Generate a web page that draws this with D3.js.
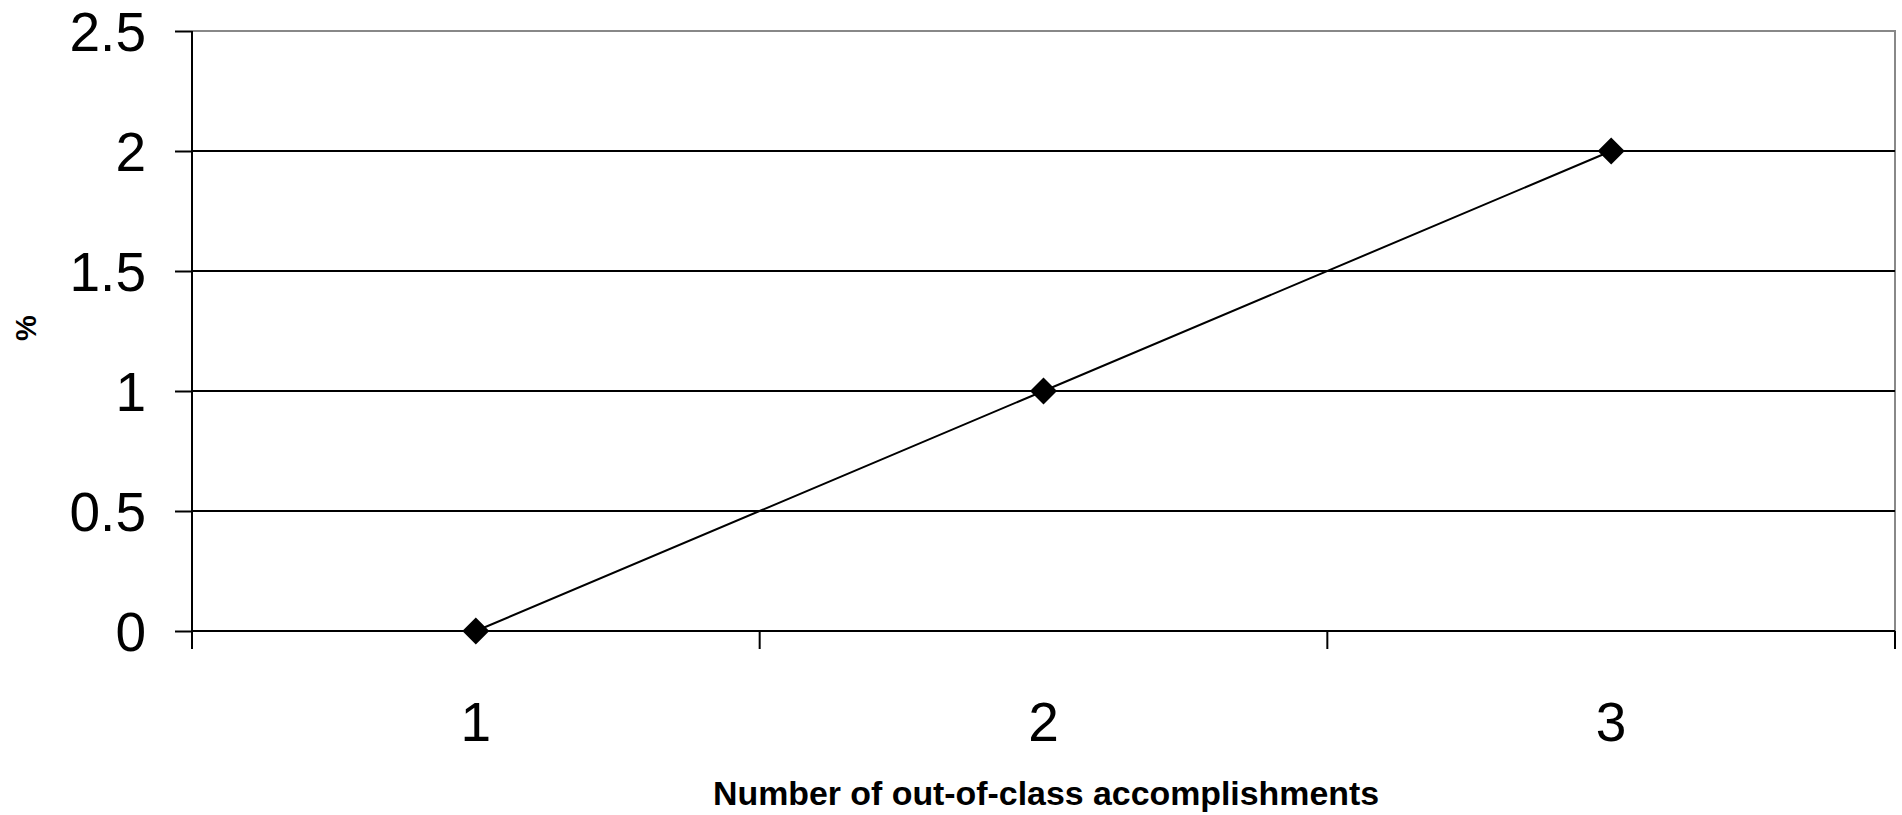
<!DOCTYPE html>
<html><head><meta charset="utf-8">
<script src="https://cdn.jsdelivr.net/npm/d3@7"></script>
<style>body{margin:0;background:#fff}svg{display:block}</style>
</head><body>
<svg id="c" width="1902" height="815"></svg>
<script>
const categories = ["1","2","3"];
const values = [0, 1, 2];
const yTicks = [0, 0.5, 1, 1.5, 2, 2.5];
const xTitle = "Number of out-of-class accomplishments";
const yTitle = "%";

const svg = d3.select("#c");
const L = 192, R = 1895, T = 31, B = 631;
const x = d3.scaleBand().domain(categories).range([L, R]);
const y = d3.scaleLinear().domain([0, 2.5]).range([B, T]);
const font = "'Liberation Sans', Arial, sans-serif";

// plot border (top/right gray)
svg.append("path").attr("d", `M${L},${T}H${R}V${B}`).attr("fill","none").attr("stroke","#888").attr("stroke-width",2);

// gridlines
svg.append("g").selectAll("line").data(yTicks.filter(d=>d>0 && d<2.5)).join("line")
  .attr("x1", L).attr("x2", R).attr("y1", d=>y(d)).attr("y2", d=>y(d))
  .attr("stroke","#000").attr("stroke-width",2);

// y axis
const yAxis = svg.append("g").attr("transform",`translate(${L},0)`)
  .call(d3.axisLeft(y).tickValues(yTicks).tickSize(17).tickPadding(29).tickFormat(d=>String(d)));
yAxis.select(".domain").attr("stroke","#000").attr("stroke-width",2).attr("d",`M0,${T}V${B+18}`);
yAxis.selectAll(".tick line").attr("stroke","#000").attr("stroke-width",2);
yAxis.selectAll("text").attr("font-family",font).attr("font-size",55).attr("fill","#000").attr("dy","0.36em");

// x axis
const xAxis = svg.append("g").attr("transform",`translate(0,${B})`)
  .call(d3.axisBottom(x).tickSize(0).tickPadding(72));
xAxis.select(".domain").attr("stroke","#000").attr("stroke-width",2).attr("d",`M${L},0H${R}`);
xAxis.selectAll(".tick line").remove();
xAxis.selectAll("text").attr("font-family",font).attr("font-size",55).attr("fill","#000").attr("dy","0");
// category boundary ticks
const bounds = categories.map(c=>x(c)).concat([R]);
svg.append("g").selectAll("line").data(bounds).join("line")
  .attr("x1",d=>d).attr("x2",d=>d).attr("y1",B).attr("y2",B+18)
  .attr("stroke","#000").attr("stroke-width",2);
xAxis.selectAll(".tick text").attr("y", 110);

// line
const cx = c => x(c) + x.bandwidth()/2;
svg.append("path").datum(values)
  .attr("d", d3.line().x((d,i)=>cx(categories[i])).y(d=>y(d)))
  .attr("fill","none").attr("stroke","#000").attr("stroke-width",2);

// markers
svg.append("g").selectAll("path").data(values).join("path")
  .attr("transform",(d,i)=>`translate(${cx(categories[i])},${y(d)})`)
  .attr("d","M0,-13.5L13.5,0L0,13.5L-13.5,0Z").attr("fill","#000");

// titles
svg.append("text").attr("x",1046).attr("y",805).attr("text-anchor","middle")
  .attr("font-family",font).attr("font-weight","bold").attr("font-size",33)
  .attr("textLength",666).attr("lengthAdjust","spacingAndGlyphs").text(xTitle);
svg.append("text").attr("transform","translate(36,328) rotate(-90)").attr("text-anchor","middle")
  .attr("font-family",font).attr("font-weight","bold").attr("font-size",29).text(yTitle);
</script>
</body></html>
